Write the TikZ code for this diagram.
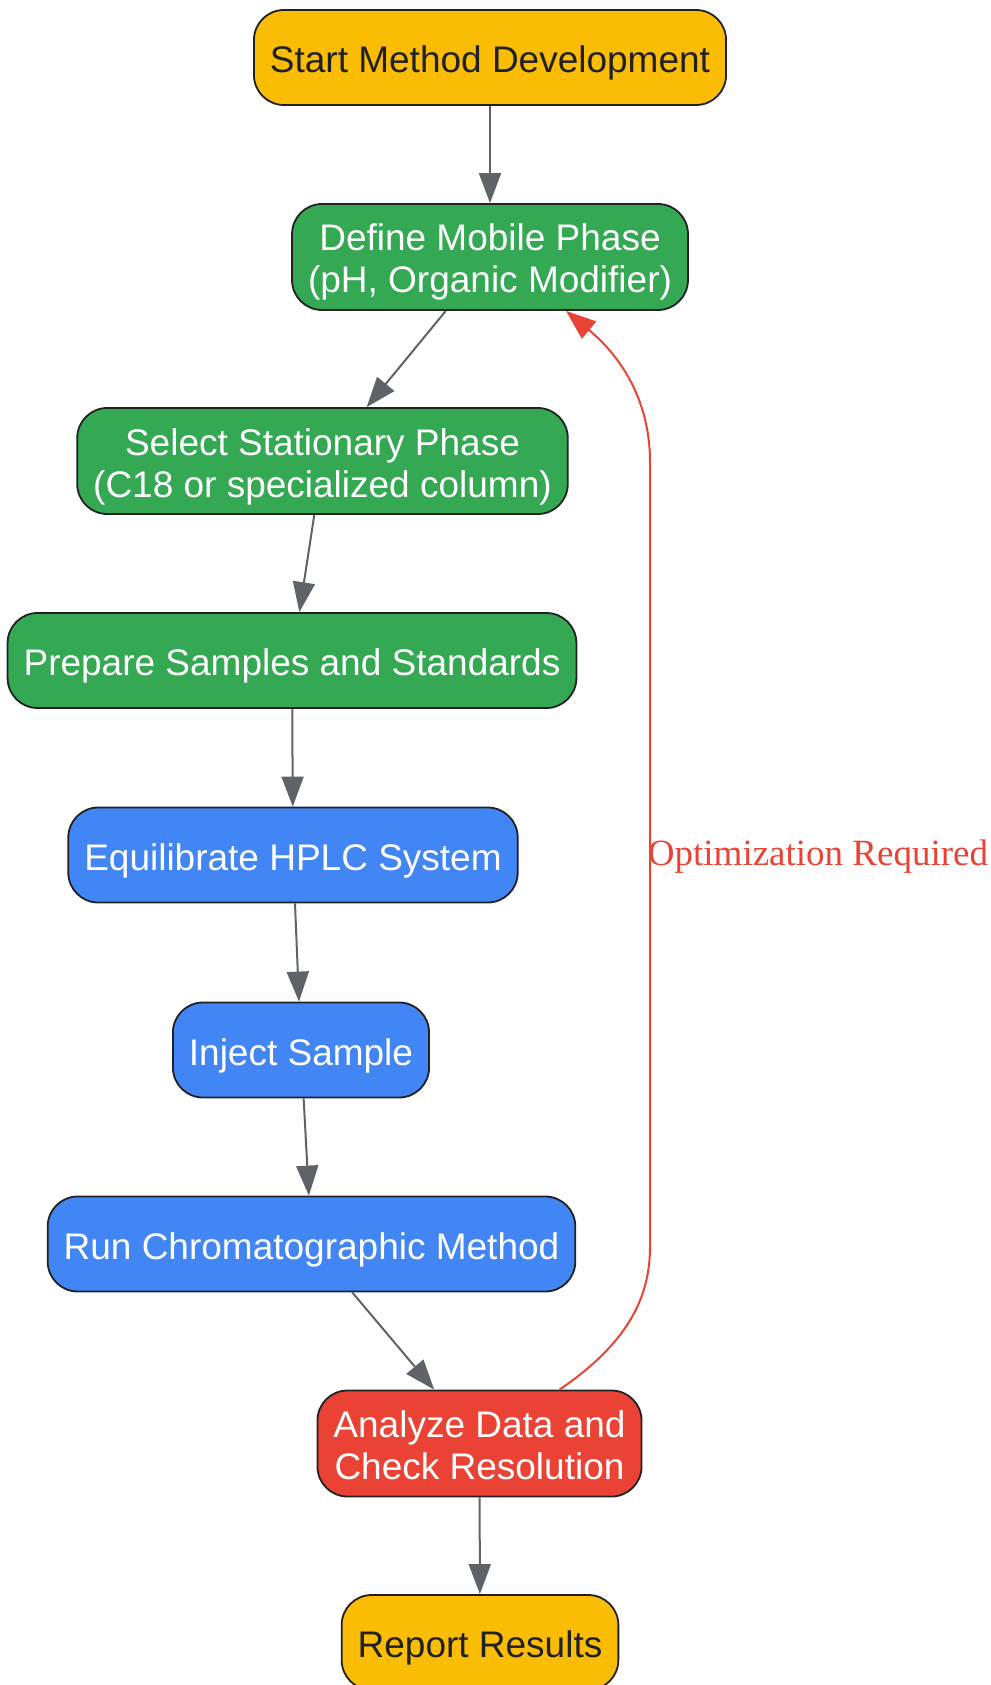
\documentclass[tikz,border=0pt]{standalone}
\usepackage{xcolor}
\usepackage{fontspec}
\setmainfont{Liberation Sans}
\newfontfamily\labelfont{Liberation Serif}
\usetikzlibrary{arrows.meta, positioning, shapes}

\definecolor{termyellow}{HTML}{FBBC04}
\definecolor{prepgreen}{HTML}{34A853}
\definecolor{runblue}{HTML}{4285F4}
\definecolor{checkred}{HTML}{EA4335}
\definecolor{edgegray}{HTML}{5F6368}
\definecolor{inkdark}{HTML}{202124}

\begin{document}
\begin{tikzpicture}[x=1pt, y=-1pt,
  box/.style={draw=inkdark, line width=1.8pt, rounded corners=30pt, align=center,
    inner xsep=16pt, inner ysep=9pt, minimum height=95pt,
    font=\fontsize{37}{42}\selectfont,
    execute at begin node={\rule{0pt}{38pt}},
    execute at end node={\rule[-8pt]{0pt}{0pt}}},
  twoline/.style={execute at begin node={\rule{0pt}{80pt}}},
  term/.style={box, fill=termyellow, text=inkdark},
  prep/.style={box, fill=prepgreen, text=white},
  run/.style={box, fill=runblue, text=white},
  check/.style={box, fill=checkred, text=white},
  flow/.style={draw=edgegray, line width=2pt, -{Triangle[length=30pt, width=22pt]}},
  loop/.style={draw=checkred, line width=2pt, -{Triangle[length=30pt, width=22pt]}}]
\useasboundingbox (0,0) rectangle (990,1685);

% Nodes
\node[term] (start) at (490,57.5) {Start Method Development};
\node[prep, twoline] (mobile) at (490,257) {Define Mobile Phase\\(pH, Organic Modifier)};
\node[prep, twoline] (stationary) at (322.5,461) {Select Stationary Phase\\(C18 or specialized column)};
\node[prep] (samples) at (292,660.5) {Prepare Samples and Standards};
\node[run] (equil) at (293,855) {Equilibrate HPLC System};
\node[run] (inject) at (301,1050) {Inject Sample};
\node[run] (method) at (311.5,1244) {Run Chromatographic Method};
\node[check, twoline] (analyze) at (479.5,1443.5) {Analyze Data and\\Check Resolution};
\node[term] (report) at (480,1642.5) {Report Results};

% Edges
\draw[flow] (start) -- (mobile);
\draw[flow] (mobile) -- (stationary);
\draw[flow] (stationary) -- (samples);
\draw[flow] (samples) -- (equil);
\draw[flow] (equil) -- (inject);
\draw[flow] (inject) -- (method);
\draw[flow] (method) -- (analyze);
\draw[flow] (analyze) -- (report);

% Feedback
\draw[loop] ([xshift=80pt]analyze.north) .. controls (625,1345) and (650,1300) .. (650,1247)
  -- (650,462) .. controls (650,405) and (625,360) .. ([xshift=76pt]mobile.south);
\node[text=checkred, font=\labelfont\fontsize{37}{42}\selectfont] (optlabel) at (818,857) {Optimization Required};
\end{tikzpicture}
\end{document}
